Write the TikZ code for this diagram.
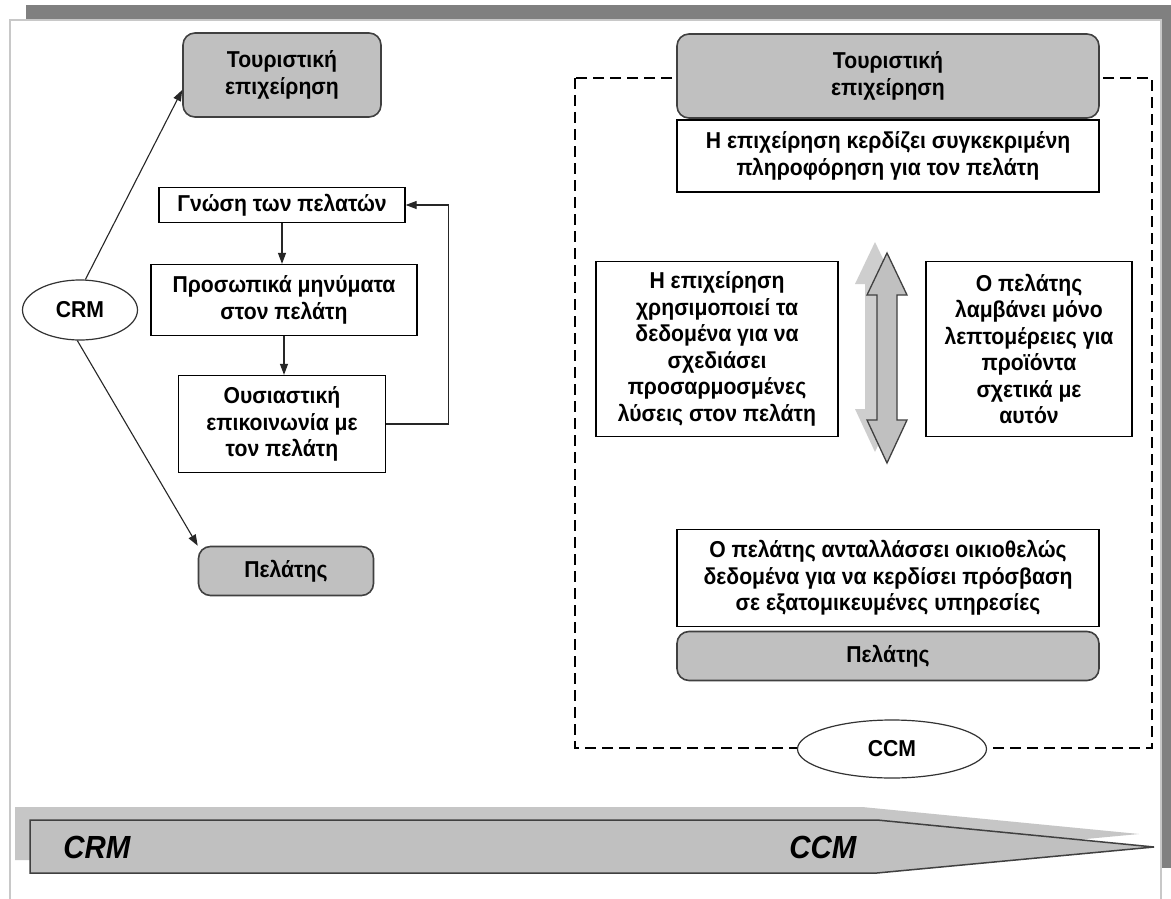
\documentclass[tikz,border=0pt]{standalone}
\usepackage{fontspec}
\setmainfont{Liberation Sans}[FakeStretch=0.92]
\usetikzlibrary{arrows.meta,shapes.geometric}
\definecolor{boxgray}{HTML}{C0C0C0}
\definecolor{framegray}{HTML}{808080}
\definecolor{edgegray}{HTML}{C8C8C8}
\definecolor{shadowgray}{HTML}{C6C6C6}
\begin{document}
\begin{tikzpicture}[x=1pt,y=-1pt,
  txt/.style={font=\bfseries\fontsize{23}{26.5}\selectfont, align=center, inner sep=0pt},
  plainbox/.style={txt, draw=black, line width=1.3pt, fill=white},
  greybox/.style={txt, draw=black!75, line width=1.6pt, fill=boxgray, rounded corners=12pt},
  oval/.style={ellipse, draw=black!80, line width=1.2pt, fill=white, inner sep=0pt,
    font=\bfseries\fontsize{23}{23}\selectfont},
  link/.style={-{Triangle[length=11pt,width=8pt]}, line width=1.1pt, draw=black!85},
  bigarrow/.style={fill=boxgray, draw=black!75, line width=1.5pt},
  arrowshadow/.style={fill=shadowgray},
  bandlabel/.style={font=\bfseries\itshape\fontsize{32}{32}\selectfont, inner sep=0pt},
]
\useasboundingbox (0,0) rectangle (1171,899);
\fill[white] (0,0) rectangle (1171,899);

% page frame with its dark offset edge
\fill[framegray] (26,5) rectangle (1171,20);
\fill[framegray] (1161,5) rectangle (1171,868);
\draw[line width=2pt, draw=edgegray, fill=white] (10,20) rectangle (1161,910);

% ---------- left: CRM ----------
\node[greybox, minimum width=198, minimum height=84] (tour1) at (282,75) {Τουριστική\\επιχείρηση};
\node[plainbox, minimum width=246, minimum height=35] (gnosi) at (282,205) {Γνώση των πελατών};
\node[plainbox, minimum width=266, minimum height=71] (pros) at (284,300) {Προσωπικά μηνύματα\\στον πελάτη};
\node[plainbox, minimum width=207, minimum height=97] (ous) at (282,424) {Ουσιαστική\\επικοινωνία με\\τον πελάτη};
\node[greybox, minimum width=175, minimum height=49] (pel1) at (286,571) {Πελάτης};
\node[oval, minimum width=115, minimum height=60] (crm) at (80,310) {CRM};

\draw[link] (crm.80) -- ([yshift=-15pt]tour1.west);
\draw[link] (crm.265) -- (pel1.north west);
\draw[link] (gnosi.south) -- (gnosi.south |- pros.north);
\draw[link] (pros.south) -- (pros.south |- ous.north);
\draw[link] (ous.east) -- ++(62,0) |- (gnosi.east);

% ---------- right: CCM ----------
\draw[dash pattern=on 11pt off 6pt, line width=2.2pt] (575,78) rectangle (1152,748);

\node[greybox, minimum width=422, minimum height=84] (tour2) at (888,76) {Τουριστική\\επιχείρηση};
\node[plainbox, minimum width=422, minimum height=72] (gain) at (888,156) {Η επιχείρηση κερδίζει συγκεκριμένη\\πληροφόρηση για τον πελάτη};
\node[plainbox, minimum width=242, minimum height=175] (uses) at (717,349)
  {Η επιχείρηση\\χρησιμοποιεί τα\\δεδομένα για να\\σχεδιάσει\\προσαρμοσμένες\\λύσεις στον πελάτη};
\node[plainbox, minimum width=206, minimum height=175] (gets) at (1029,349)
  {Ο πελάτης\\λαμβάνει μόνο\\λεπτομέρειες για\\προϊόντα\\σχετικά με\\αυτόν};
\node[plainbox, minimum width=422, minimum height=97] (swap) at (888,578)
  {Ο πελάτης ανταλλάσσει οικιοθελώς\\δεδομένα για να κερδίσει πρόσβαση\\σε εξατομικευμένες υπηρεσίες};
\node[greybox, minimum width=422, minimum height=49] (pel2) at (888,656) {Πελάτης};
\node[oval, minimum width=189, minimum height=58] (ccm) at (892,749) {CCM};

% two-way exchange arrow with its soft shadow
\fill[arrowshadow, opacity=0.85, shift={(-12,-11)}]
  (887,253) -- (907,295) -- (897,295) -- (897,420) -- (907,420) -- (887,463)
  -- (867,420) -- (877,420) -- (877,295) -- (867,295) -- cycle;
\draw[bigarrow, line width=1.3pt]
  (887,253) -- (907,295) -- (897,295) -- (897,420) -- (907,420) -- (887,463)
  -- (867,420) -- (877,420) -- (877,295) -- (867,295) -- cycle;

% ---------- bottom band: CRM to CCM ----------
\fill[arrowshadow] (15,807) -- (862,807) -- (1139,834) -- (862,860) -- (15,860) -- cycle;
\draw[bigarrow] (30,820) -- (877,820) -- (1154,847) -- (877,873) -- (30,873) -- cycle;
\node[bandlabel] (bandcrm) at (97,847) {CRM};
\node[bandlabel] (bandccm) at (823,847) {CCM};
\end{tikzpicture}
\end{document}
